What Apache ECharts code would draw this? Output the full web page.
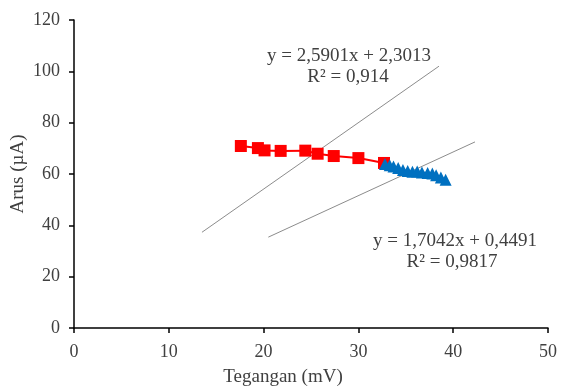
<!DOCTYPE html>
<html><head><meta charset="utf-8">
<script src="https://cdn.jsdelivr.net/npm/echarts@6/dist/echarts.min.js"></script>
<style>html,body{margin:0;padding:0;background:#fff}#c{width:561px;height:388px}</style>
</head><body><div id="c"></div>
<script>
var redX = [17.6, 19.4, 20.1, 21.8, 24.4, 25.7, 27.4, 30.0, 32.7];
var redY = [70.9, 70.1, 69.2, 69.0, 69.1, 67.9, 67.0, 66.2, 64.3];
var blueX = [32.8, 33.3, 33.7, 34.2, 34.7, 35.2, 35.7, 36.2, 36.7, 37.3, 37.8, 38.2, 38.7, 39.2];
var blueY = [63.9, 63.4, 62.9, 62.3, 61.6, 61.2, 60.9, 61.0, 60.6, 60.4, 60.2, 59.5, 58.6, 57.8];
var trend1X = [13.5, 38.5];
var trend1Y = [37.3, 102.0];
var trend2X = [20.5, 42.3];
var trend2Y = [35.4, 72.5];
var xTicks = [0, 10, 20, 30, 40, 50];
var yTicks = [0, 20, 40, 60, 80, 100, 120];
var eq1 = ['y = 2,5901x + 2,3013', 'R² = 0,914'];
var eq2 = ['y = 1,7042x + 0,4491', 'R² = 0,9817'];

function pairs(xs, ys){ return xs.map(function(x,i){ return [x, ys[i]]; }); }
var font = '"Liberation Serif", "Times New Roman", serif';
var fs = 18, fs2 = 19;
function txt(s, x, y){
  return {type:'text', x:x, y:y, style:{text:s, font:fs2+'px '+font, fill:'#404040', align:'center', verticalAlign:'middle'}};
}
var chart = echarts.init(document.getElementById('c'), null, {renderer:'canvas'});
chart.setOption({
  animation:false,
  backgroundColor:'#fff',
  grid:{left:74, right:13, top:20, bottom:60, containLabel:false, outerBoundsMode:'none'},
  xAxis:{type:'value', min:0, max:50, interval:10,
    name:'Tegangan (mV)', nameLocation:'middle', nameGap:40, nameMoveOverlap:false,
    nameTextStyle:{fontFamily:font, fontSize:fs2, color:'#404040', padding:[0, 56, 0, 0]},
    axisLine:{onZero:false, lineStyle:{color:'#000', width:1.5}},
    axisTick:{show:true, length:5, lineStyle:{color:'#000', width:1.5}},
    axisLabel:{fontFamily:font, fontSize:fs, color:'#404040', margin:15},
    splitLine:{show:false}},
  yAxis:{type:'value', min:0, max:120, interval:20,
    name:'Arus (µA)', nameLocation:'middle', nameGap:46, nameRotate:90, nameMoveOverlap:false,
    nameTextStyle:{fontFamily:font, fontSize:fs2, color:'#404040'},
    axisLine:{show:true, lineStyle:{color:'#000', width:1.5}},
    axisTick:{show:true, length:5, lineStyle:{color:'#000', width:1.5}},
    axisLabel:{fontFamily:font, fontSize:fs, color:'#404040', margin:14},
    splitLine:{show:false}},
  series:[
    {type:'line', data:pairs(trend1X, trend1Y), symbol:'none', lineStyle:{color:'#8c8c8c', width:1}, silent:true},
    {type:'line', data:pairs(trend2X, trend2Y), symbol:'none', lineStyle:{color:'#8c8c8c', width:1}, silent:true},
    {type:'line', data:pairs(redX, redY), symbol:'rect', symbolSize:12,
      itemStyle:{color:'#ff0000'}, lineStyle:{color:'#ff0000', width:2}},
    {type:'line', data:pairs(blueX, blueY), symbol:'triangle', symbolSize:12,
      itemStyle:{color:'#0070c0'}, lineStyle:{color:'#0070c0', width:2}}
  ],
  graphic:[
    txt(eq1[0], 349, 56), txt(eq1[1], 348, 77),
    txt(eq2[0], 455, 241), txt(eq2[1], 452, 262)
  ]
});
</script></body></html>
